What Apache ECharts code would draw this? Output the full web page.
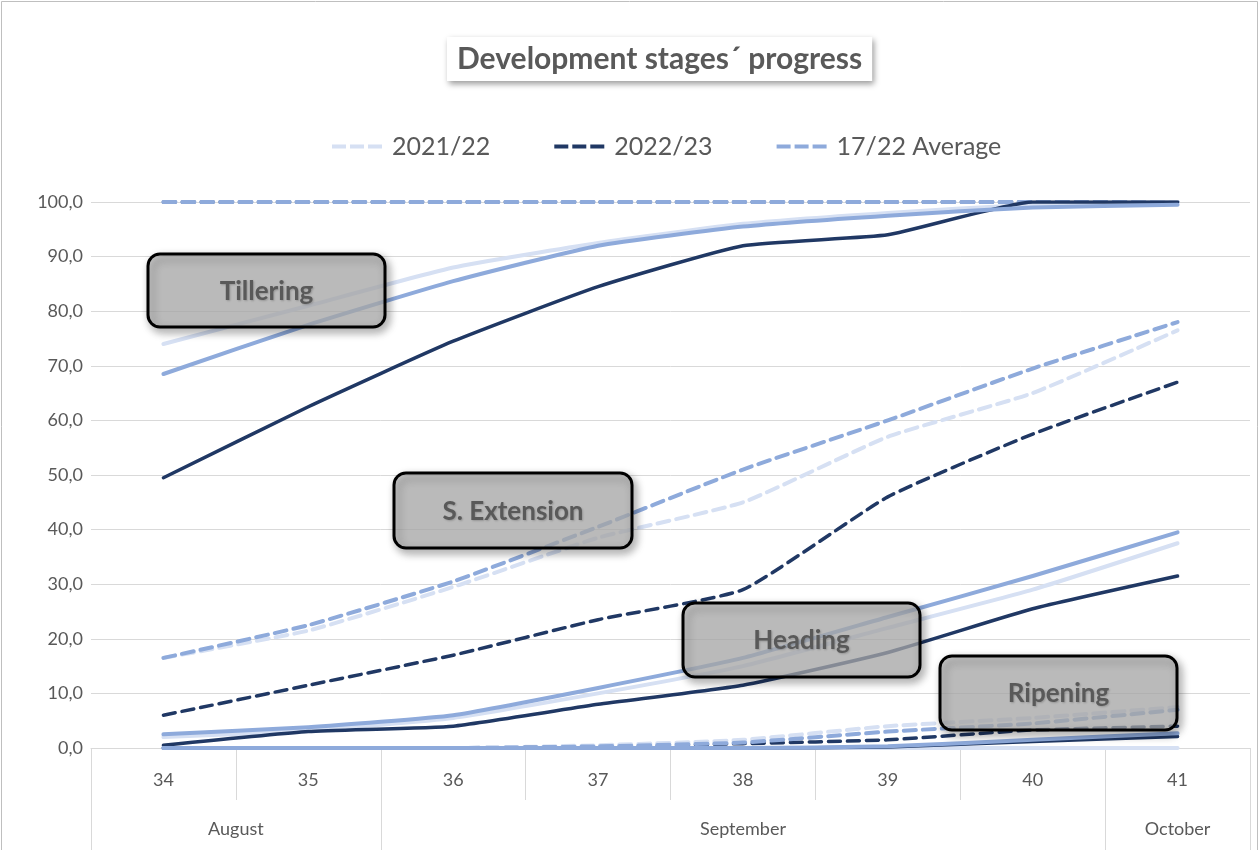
<!DOCTYPE html>
<html>
<head>
<meta charset="utf-8">
<script src="https://cdn.jsdelivr.net/npm/echarts@6/dist/echarts.min.js"></script>
<style>
html,body{margin:0;padding:0;background:#fff;}
#chart{width:1260px;height:850px;}
</style>
</head>
<body>
<div id="chart"></div>
<script>
// ---- data ----
const weeks = ['34','35','36','37','38','39','40','41'];
const monthNames = ['August','September','October'];
const monthCenters = [34.5, 38, 41];      // centre of each month group (week units)
const monthBounds = [33.5, 35.5, 40.5, 41.5];
const yTicks = [0,10,20,30,40,50,60,70,80,90,100];
const seasons = ['2021/22','2022/23','17/22 Average'];

// Emergence (dashed, all at 100)
const emerg21  = [100,100,100,100,100,100,100,100];
const emerg22  = [100,100,100,100,100,100,100,100];
const emergAvg = [100,100,100,100,100,100,100,100];
// Tillering (solid)
const till21  = [74, 81, 88, 92.5, 96, 98, 99.5, 100];
const till22  = [49.5, 62.5, 74.5, 84.5, 92, 94, 100, 100];
const tillAvg = [68.5, 77.5, 85.5, 92, 95.5, 97.5, 99, 99.5];
// Stem extension (dashed)
const ext21  = [16.5, 21.5, 29.5, 38.5, 45, 57, 65, 76.5];
const ext22  = [6, 11.5, 17, 23.5, 29, 46, 57.5, 67];
const extAvg = [16.5, 22.5, 30.5, 40.5, 51, 60, 69.5, 78];
// Heading (solid)
const head21  = [2, 3.2, 5.5, 10, 15, 22, 29, 37.5];
const head22  = [0.5, 3, 4, 8, 11.5, 17.5, 25.5, 31.5];
const headAvg = [2.5, 3.8, 6, 11, 16.5, 24, 31.5, 39.5];
// Ripening (dashed)
const ripe21  = [0, 0, 0, 0.5, 1.5, 4, 5.5, 7.5];
const ripe22  = [0, 0, 0, 0.2, 0.8, 1.5, 3.3, 4];
const ripeAvg = [0, 0, 0, 0.3, 1, 3, 4.5, 7];
// Harvest (solid)
const harv21  = [0, 0, 0, 0, 0, 0, 0, 0];
const harv22  = [0, 0, 0, 0, 0, 0.2, 1.2, 2.1];
const harvAvg = [0, 0, 0, 0, 0, 0.3, 1.5, 2.7];

// ---- styles ----
const COL = { '2021/22': '#d6e0f3', '2022/23': '#203864', '17/22 Average': '#8eaadb' };
const TXT = '#595959';
const FONT = 'Lato, "Open Sans", sans-serif';
const DASH = [12, 7];
const LEG_ICON = 'path://M0,0h14v4h-14z M18,0h14v4h-14z M36,0h14v4h-14z';

function mk(name, data, dashed, width) {
  return {
    name: name, type: 'line', data: data, xAxisIndex: 0,
    symbol: 'none', smooth: 0.15, silent: true,
    lineStyle: { color: COL[name], width: width || 4, type: dashed ? DASH : 'solid', cap: 'round', join: 'round' },
    itemStyle: { color: COL[name] },
    emphasis: { disabled: true }
  };
}

const groups = [
  [emerg21, emerg22, emergAvg, true],
  [till21, till22, tillAvg, false],
  [ext21, ext22, extAvg, true],
  [head21, head22, headAvg, false],
  [ripe21, ripe22, ripeAvg, true],
  [harv21, harv22, harvAvg, false]
];
const series = [];
groups.forEach(g => {
  series.push(mk(seasons[0], g[0], g[3], 4));
  series.push(mk(seasons[1], g[1], g[3], 3.5));
  series.push(mk(seasons[2], g[2], g[3], 4));
});

const chart = echarts.init(document.getElementById('chart'), null, { renderer: 'canvas' });

function box(x, y, w, h, label) {
  return {
    type: 'group', x: x, y: y, z: 100,
    children: [
      { type: 'rect', z: 100, shape: { x: 0, y: 0, width: w, height: h, r: 12 },
        style: { fill: 'rgba(186,186,186,0.68)', stroke: '#000', lineWidth: 3,
                 shadowBlur: 8, shadowColor: 'rgba(0,0,0,0.4)', shadowOffsetX: 3, shadowOffsetY: 4 } },
      { type: 'text', z: 101, x: w / 2, y: h / 2 + 1,
        style: { text: label, fill: TXT, font: 'bold 26px ' + FONT, align: 'center', verticalAlign: 'middle',
                 textShadowBlur: 2, textShadowColor: 'rgba(0,0,0,0.2)', textShadowOffsetX: 1, textShadowOffsetY: 1 } }
    ]
  };
}

const option = {
  animation: false,
  backgroundColor: '#fff',
  textStyle: { fontFamily: FONT },
  title: {
    text: 'Development stages\u00B4 progress',
    left: 447, top: 37,
    padding: [7, 10, 7, 10],
    backgroundColor: '#fff',
    shadowBlur: 6, shadowColor: 'rgba(0,0,0,0.4)', shadowOffsetX: 2, shadowOffsetY: 3,
    textStyle: { color: TXT, fontSize: 30, fontWeight: 'bold', fontFamily: FONT }
  },
  legend: {
    data: seasons.map(s => ({ name: s, icon: LEG_ICON, itemStyle: { color: COL[s] } })),
    top: 129, left: 327,
    itemWidth: 50, itemHeight: 4, itemGap: 64,
    selectedMode: false,
    textStyle: { color: TXT, fontSize: 25, fontFamily: FONT, padding: [0, 0, 0, 5] }
  },
  grid: { left: 91, right: 10, top: 202, bottom: 102, containLabel: false },
  xAxis: [
    {
      type: 'category', data: weeks, boundaryGap: true,
      axisLine: { show: true, lineStyle: { color: '#d9d9d9', width: 1 } },
      axisTick: { show: true, length: 52, alignWithLabel: false, lineStyle: { color: '#d9d9d9' } },
      axisLabel: { color: TXT, fontSize: 18, margin: 23, fontFamily: FONT },
      splitLine: { show: false }
    },
    {
      type: 'value', position: 'bottom', offset: 0,
      min: 33.5, max: 41.5,
      axisLine: { show: false },
      axisTick: { show: true, length: 102, customValues: monthBounds, lineStyle: { color: '#d9d9d9' } },
      axisLabel: { show: true, customValues: monthCenters, margin: 72, color: TXT, fontSize: 18, fontFamily: FONT,
        formatter: v => monthNames[monthCenters.indexOf(v)] },
      splitLine: { show: false }
    }
  ],
  yAxis: {
    type: 'value', min: 0, max: 100, interval: 10,
    axisLine: { show: false }, axisTick: { show: false },
    axisLabel: { color: TXT, fontSize: 18, margin: 8, fontFamily: FONT,
      formatter: v => yTicks.indexOf(v) >= 0 ? v.toFixed(1).replace('.', ',') : '' },
    splitLine: { lineStyle: { color: '#d9d9d9', width: 1 } }
  },
  series: series,
  graphic: [
    { type: 'rect', z: 0, silent: true, shape: { x: 1.5, y: 1.5, width: 1256, height: 860 },
      style: { fill: 'none', stroke: '#bfbfbf', lineWidth: 1 } },
    box(148, 254, 237, 73, 'Tillering'),
    box(394, 473, 238, 75, 'S. Extension'),
    box(683, 603, 237, 74, 'Heading'),
    box(940, 656, 237, 74, 'Ripening')
  ]
};
chart.setOption(option);
</script>
</body>
</html>
